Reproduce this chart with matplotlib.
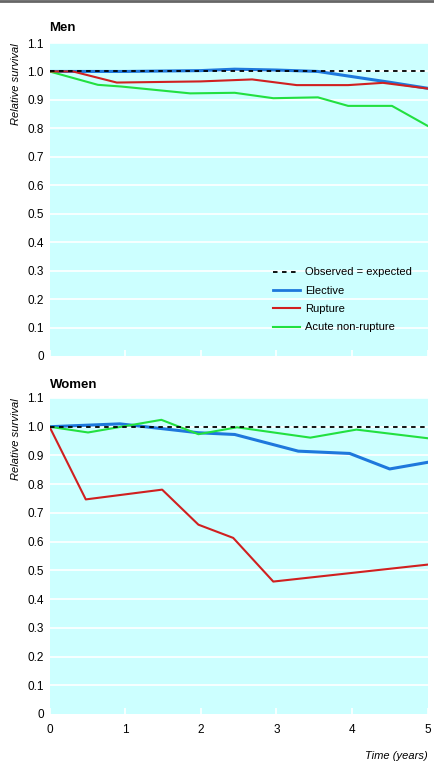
import matplotlib.pyplot as plt
from matplotlib.lines import Line2D

plt.rcParams['font.family'] = ['Liberation Sans Narrow', 'Liberation Sans', 'DejaVu Sans']

# Men
men_elective_t = [0, 1.0, 2.0, 2.45, 3.0, 3.55, 4.0, 4.5, 5]
men_elective_v = [1.0, 1.0, 1.003, 1.008, 1.005, 1.0, 0.982, 0.962, 0.941]
men_rupture_t = [0, 0.31, 0.89, 2.0, 2.68, 3.27, 3.95, 4.41, 5]
men_rupture_v = [1.0, 1.0, 0.961, 0.965, 0.972, 0.952, 0.952, 0.960, 0.940]
men_acute_t = [0, 0.64, 0.95, 1.86, 2.45, 2.96, 3.55, 3.95, 4.53, 5]
men_acute_v = [1.0, 0.953, 0.947, 0.923, 0.925, 0.906, 0.909, 0.879, 0.879, 0.809]

# Women
women_elective_t = [0, 0.93, 1.97, 2.45, 3.29, 3.97, 4.5, 5]
women_elective_v = [1.0, 1.01, 0.979, 0.973, 0.915, 0.907, 0.853, 0.876]
women_rupture_t = [0, 0.48, 1.49, 1.97, 2.43, 2.96, 5]
women_rupture_v = [1.0, 0.747, 0.781, 0.659, 0.613, 0.461, 0.52]
women_acute_t = [0, 0.51, 1.48, 1.97, 2.48, 3.45, 4.06, 5]
women_acute_v = [1.0, 0.98, 1.024, 0.974, 0.998, 0.962, 0.99, 0.96]

yticks = [i / 10 for i in range(12)]
ylabels = ['0'] + ['%.1f' % v for v in yticks[1:]]
xticks = [0, 1, 2, 3, 4, 5]

c_blue = '#1e78dc'
c_red = '#d02020'
c_green = '#22e040'
bg = '#ccffff'

fig = plt.figure(figsize=(4.34, 7.62), dpi=100)
W, H = 434, 762

# top rule
fig.add_artist(Line2D([0, 1], [1 - 1 / H, 1 - 1 / H], color='#666666', lw=2,
                      transform=fig.transFigure))


def make_ax(top, bottom):
    ax = fig.add_axes([49.5 / W, 1 - bottom / H, 378 / W, (bottom - top) / H])
    ax.set_facecolor(bg)
    for s in ax.spines.values():
        s.set_visible(False)
    ax.set_xlim(0, 5)
    ax.set_ylim(0, 1.1)
    ax.set_yticks(yticks)
    ax.set_yticklabels(ylabels, fontsize=8.5)
    ax.set_xticks(xticks)
    ax.tick_params(axis='y', length=0, pad=4)
    ax.tick_params(axis='x', direction='in', length=4, color='white', width=1.2, pad=7,
                   labelsize=8.5)
    for v in yticks[1:]:
        ax.axhline(v, color='white', lw=1.2, zorder=1)
    ax.axhline(1.0, color='black', lw=1.3, ls=(0, (2.5, 2.5)), zorder=5)
    ax.set_ylabel('Relative survival', fontstyle='italic', fontsize=8)
    ax.yaxis.set_label_coords(-38 / 378, 1.0)
    ax.yaxis.label.set_va('top')
    ax.yaxis.label.set_ha('right')
    return ax


ax1 = make_ax(43, 356)
ax1.set_xticklabels([])
ax1.plot(men_elective_t, men_elective_v, color=c_blue, lw=2.2, zorder=3)
ax1.plot(men_rupture_t, men_rupture_v, color=c_red, lw=1.5, zorder=4)
ax1.plot(men_acute_t, men_acute_v, color=c_green, lw=1.5, zorder=3)
ax1.text(0, 1.142, 'Men', fontsize=9.5, fontweight='bold', transform=ax1.transData,
         ha='left', va='baseline')

handles = [Line2D([], [], color='black', lw=1.3, ls=(0, (2.5, 2.5))),
           Line2D([], [], color=c_blue, lw=2),
           Line2D([], [], color=c_red, lw=1.5),
           Line2D([], [], color=c_green, lw=1.5)]
ax1.legend(handles, ['Observed = expected', 'Elective', 'Rupture', 'Acute non-rupture'],
           loc='upper left', bbox_to_anchor=(219 / 378, 93 / 313), frameon=False,
           fontsize=8, handlelength=2.4, handletextpad=0.5, labelspacing=0.75,
           borderaxespad=0)

ax2 = make_ax(398, 714)
ax2.plot(women_elective_t, women_elective_v, color=c_blue, lw=2.2, zorder=3)
ax2.plot(women_rupture_t, women_rupture_v, color=c_red, lw=1.5, zorder=4)
ax2.plot(women_acute_t, women_acute_v, color=c_green, lw=1.5, zorder=3)
ax2.text(0, 1.135, 'Women', fontsize=9.5, fontweight='bold', transform=ax2.transData,
         ha='left', va='baseline')

fig.text(427.5 / W, 1 - 759 / H, 'Time (years)', fontstyle='italic', fontsize=8,
         ha='right', va='baseline')

fig.savefig('out.png', dpi=100)
